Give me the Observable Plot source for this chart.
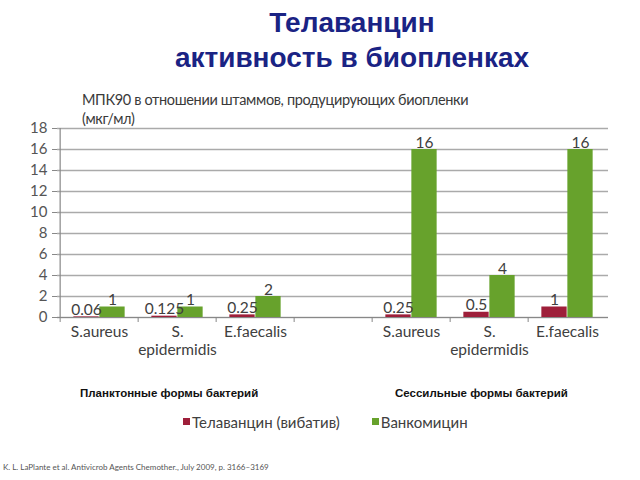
<!DOCTYPE html>
<html>
<head>
<meta charset="utf-8">
<script src="https://cdn.jsdelivr.net/npm/d3@7"></script>
<script src="https://cdn.jsdelivr.net/npm/@observablehq/plot@0.6"></script>
<style>
  html, body { margin: 0; padding: 0; background: #fff; }
  #wrap { position: relative; width: 640px; height: 480px; overflow: hidden; font-family: Lato, "Open Sans", sans-serif; }
  #chart { position: absolute; left: 0; top: 0; }
  .abs { position: absolute; white-space: nowrap; }
  #title { left: 0; width: 704px; top: 5px; text-align: center; font-family: "Liberation Sans", Arial, sans-serif; font-weight: bold; font-size: 28px; line-height: 35px; color: #1a2384; }
  #subtitle { left: 82px; top: 90px; font-size: 14.5px; letter-spacing: -0.35px; line-height: 19px; color: #3a3a3a; }
  .group { top: 387px; font-family: "Liberation Sans", Arial, sans-serif; font-weight: bold; font-size: 11.5px; color: #111; }
  #legend { left: 183px; top: 413px; font-size: 15px; color: #404040; display: flex; gap: 32px; }
  #legend span.sw { display: inline-block; width: 7px; height: 7px; margin-right: 2px; vertical-align: 3px; }
  #caption { left: 3px; top: 462px; font-size: 8px; color: #555; }
</style>
</head>
<body>
<div id="wrap">
  <div id="chart"></div>
  <div id="title" class="abs"></div>
  <div id="subtitle" class="abs"></div>
  <div id="g1" class="abs group"></div>
  <div id="g2" class="abs group"></div>
  <div id="legend" class="abs"></div>
  <div id="caption" class="abs"></div>
</div>
<script>
// ---- data ----
const titleLines = ["Телаванцин", "активность в биопленках"];
const subtitleLines = ["МПК90 в отношении штаммов, продуцирующих биопленки", "(мкг/мл)"];
const categories = ["S.aureus", "S.\nepidermidis", "E.faecalis", "", "S.aureus", "S.\nepidermidis", "E.faecalis"];
const seriesNames = ["Телаванцин (вибатив)", "Ванкомицин"];
const telavancin = [0.06, 0.125, 0.25, null, 0.25, 0.5, 1];
const vancomycin = [1, 1, 2, null, 16, 4, 16];
const yTicks = [0, 2, 4, 6, 8, 10, 12, 14, 16, 18];
const groupLabels = ["Планктонные формы бактерий", "Сессильные формы бактерий"];
const caption = "K. L. LaPlante et al. Antivicrob Agents Chemother., July 2009, p. 3166–3169";
const colors = ["#9e1f3a", "#67a22c"];

// ---- build ----
const slots = categories.map((_, i) => i);
const rows = slots.map(i => ({slot: i, tel: telavancin[i], van: vancomycin[i]}))
  .filter(d => d.tel != null);

const W = 640, H = 480, mL = 57, mR = 32, mT = 128, mB = 163;
const step = (W - mL - mR) / categories.length;
const barW = 26;

const chart = Plot.plot({
  width: W, height: H,
  marginLeft: mL, marginRight: mR, marginTop: mT, marginBottom: mB,
  x: {domain: slots, padding: 0, label: null},
  y: {domain: [0, 18], label: null},
  style: {fontFamily: "Lato, 'Open Sans', sans-serif", background: "transparent", overflow: "visible"},
  marks: [
    Plot.gridY(yTicks, {stroke: "#aaaaaa", strokeOpacity: 1, strokeWidth: 1.4}),
    Plot.axisY(yTicks, {tickSize: 5, tickPadding: 5, fontSize: 15, color: "#555", stroke: "#888", label: null}),
    Plot.barY(rows, {x: "slot", y: "tel", fill: colors[0], insetLeft: step / 2 - barW, insetRight: step / 2}),
    Plot.barY(rows, {x: "slot", y: "van", fill: colors[1], insetLeft: step / 2, insetRight: step / 2 - barW}),
    Plot.ruleY([0], {stroke: "#888", strokeWidth: 1.2}),
    Plot.ruleX([slots[0]], {dx: -step / 2, stroke: "#888", strokeWidth: 1.2}),
    Plot.axisX({tickSize: 5, tickFormat: () => "", dx: -step / 2, stroke: "#888", label: null}),
    Plot.axisX({tickSize: 0, tickPadding: 6, fontSize: 15.5, color: "#404040", tickFormat: i => categories[i], lineHeight: 1.2, label: null}),
    Plot.text(rows, {x: "slot", y: "tel", text: d => String(d.tel), dx: -barW / 2, dy: -2, lineAnchor: "bottom", fontSize: 15.5, fill: "#404040"}),
    Plot.text(rows, {x: "slot", y: "van", text: d => String(d.van), dx: barW / 2, dy: -2, lineAnchor: "bottom", fontSize: 15.5, fill: "#404040"})
  ]
});
document.getElementById("chart").appendChild(chart);

document.getElementById("title").innerHTML = titleLines.join("<br>");
document.getElementById("subtitle").innerHTML = subtitleLines.join("<br>");
const g1 = document.getElementById("g1"); g1.textContent = groupLabels[0]; g1.style.left = "80px";
const g2 = document.getElementById("g2"); g2.textContent = groupLabels[1]; g2.style.left = "395px";
const leg = document.getElementById("legend");
seriesNames.forEach((n, i) => {
  const item = document.createElement("div");
  item.innerHTML = `<span class="sw" style="background:${colors[i]}"></span>${n}`;
  leg.appendChild(item);
});
document.getElementById("caption").textContent = caption;
</script>
</body>
</html>
